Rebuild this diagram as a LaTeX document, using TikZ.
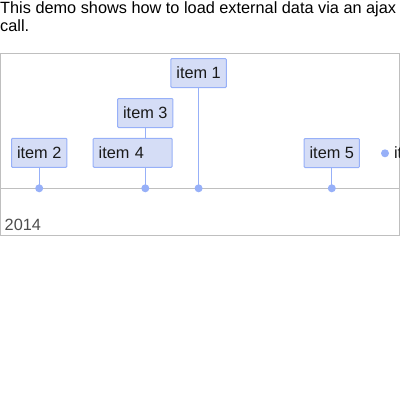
\documentclass[tikz,border=0pt]{standalone}
\usepackage{fontspec}
\setmainfont{Liberation Sans}
\usepackage{xcolor}
\usetikzlibrary{positioning,backgrounds}
\definecolor{ItemFill}{RGB}{213,221,246}
\definecolor{ItemBorder}{RGB}{151,176,248}
\definecolor{FrameGray}{RGB}{191,191,191}
\definecolor{LabelGray}{RGB}{77,77,77}
\definecolor{ItemText}{RGB}{26,26,26}

\begin{document}
\begin{tikzpicture}[x=1pt, y=-1pt, font=\fontsize{16.3}{18}\selectfont,
    itembox/.style={draw=ItemBorder, fill=ItemFill, text=ItemText, line width=1pt,
      rounded corners=1pt, minimum height=29pt, minimum width=55pt, inner xsep=5.5pt,
      text height=11.5pt, text depth=0pt},
    itemdot/.style={circle, fill=ItemBorder, inner sep=0pt, minimum size=8pt},
    itemline/.style={ItemBorder, line width=1pt}]
      \useasboundingbox (0,0) rectangle (400,400);
      \node[anchor=base west, inner sep=0pt] (title1) at (0,13.5) {This demo shows how to load external data via an ajax};
      \node[anchor=base west, inner sep=0pt] (title2) at (0,31.5) {call.};
      \draw[FrameGray, line width=1pt] (0.5,53) rectangle (399.5,235.5);
      \coordinate (axisL) at (0.5,188.3);
      \coordinate (axisR) at (399.5,188.3);
      \draw[FrameGray, line width=1pt] (axisL) -- (axisR);
      \node[anchor=base west, inner sep=0pt, text=LabelGray] (year) at (4.5,230) {2014};
      \node[itemdot] (dot2) at (39.2,188.3) {};
      \node[itemdot] (dot3) at (145.3,188.3) {};
      \node[itemdot] (dot1) at (198.6,188.3) {};
      \node[itemdot] (dot5) at (331.8,188.3) {};
      \node[itembox] (item2) at (39.2,152.8) {item 2};
      \node[itembox] (item3) at (145.3,113) {item 3};
      \node[itembox] (item1) at (198.6,73) {item 1};
      \node[itembox] (item5) at (331.8,153) {item 5};
      \node[itembox, anchor=west, text width=68pt, align=left] (item4) at (92.7,152.8) {item 4};
      \begin{pgfonlayer}{background}
        \draw[itemline] (item2.south) -- (dot2.center);
        \draw[itemline] (item3.south) -- (dot3.center);
        \draw[itemline] (item1.south) -- (dot1.center);
        \draw[itemline] (item5.south) -- (dot5.center);
      \end{pgfonlayer}
      \begin{scope}
        \clip (0.5,53) rectangle (399,235.5);
        \node[itemdot] (dot6) at (385,153.3) {};
        \node[anchor=base west, inner sep=0pt, text=ItemText] (item6) at (393.8,158.5) {it};
      \end{scope}
    \end{tikzpicture}
\end{document}
